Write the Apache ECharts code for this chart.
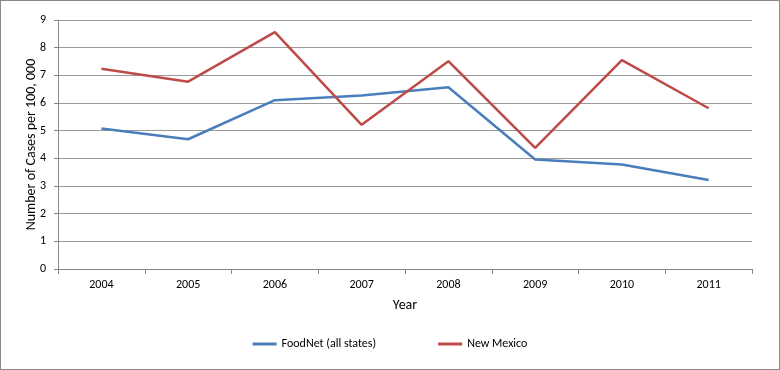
<!DOCTYPE html>
<html><head><meta charset="utf-8">
<script src="https://cdn.jsdelivr.net/npm/echarts@6/dist/echarts.min.js"></script>
<style>
html,body{margin:0;padding:0;background:#fff;}
#c{width:778px;height:368px;border:1px solid #8a8a8a;}
</style></head>
<body><div id="c"></div>
<script>
const years = ['2004','2005','2006','2007','2008','2009','2010','2011'];
const foodnet = [5.08, 4.69, 6.10, 6.27, 6.57, 3.96, 3.78, 3.22];
const newMexico = [7.24, 6.77, 8.56, 5.21, 7.51, 4.38, 7.55, 5.81];
const seriesNames = ['FoodNet (all states)', 'New Mexico'];

const font = 'Calibri, Carlito, Lato, sans-serif';
const chart = echarts.init(document.getElementById('c'));
chart.setOption({
  animation: false,
  textStyle: {fontFamily: font},
  grid: {left: 57, right: 27, top: 19, bottom: 100},
  legend: {
    bottom: 14, left: 'center', itemGap: 62, itemWidth: 24, itemHeight: 3,
    icon: 'rect',
    textStyle: {fontSize: 12, color: '#000', fontFamily: font},
    data: seriesNames
  },
  xAxis: {
    type: 'category', data: years, boundaryGap: true,
    name: 'Year', nameLocation: 'middle', nameGap: 29,
    nameTextStyle: {fontSize: 14, color: '#000', fontFamily: font},
    axisLine: {lineStyle: {color: '#888', width: 1}},
    axisTick: {show: true, length: 5, lineStyle: {color: '#888'}},
    axisLabel: {fontSize: 12, color: '#000', margin: 10}
  },
  yAxis: {
    type: 'value', min: 0, max: 9, interval: 1,
    name: 'Number of Cases per 100, 000', nameLocation: 'middle', nameGap: 20,
    nameMoveOverlap: false,
    nameTextStyle: {fontSize: 14, color: '#000', fontFamily: font},
    axisLine: {show: true, lineStyle: {color: '#888'}},
    axisTick: {show: true, length: 4, lineStyle: {color: '#888'}},
    axisLabel: {fontSize: 12, color: '#000', margin: 12},
    splitLine: {lineStyle: {color: '#9a9a9a', width: 1}}
  },
  series: [
    {name: seriesNames[0], type: 'line', data: foodnet, symbol: 'none',
     lineStyle: {color: '#4a7ebb', width: 2.5}, itemStyle: {color: '#4a7ebb'}},
    {name: seriesNames[1], type: 'line', data: newMexico, symbol: 'none',
     lineStyle: {color: '#be4b48', width: 2.5}, itemStyle: {color: '#be4b48'}}
  ]
});
</script></body></html>
